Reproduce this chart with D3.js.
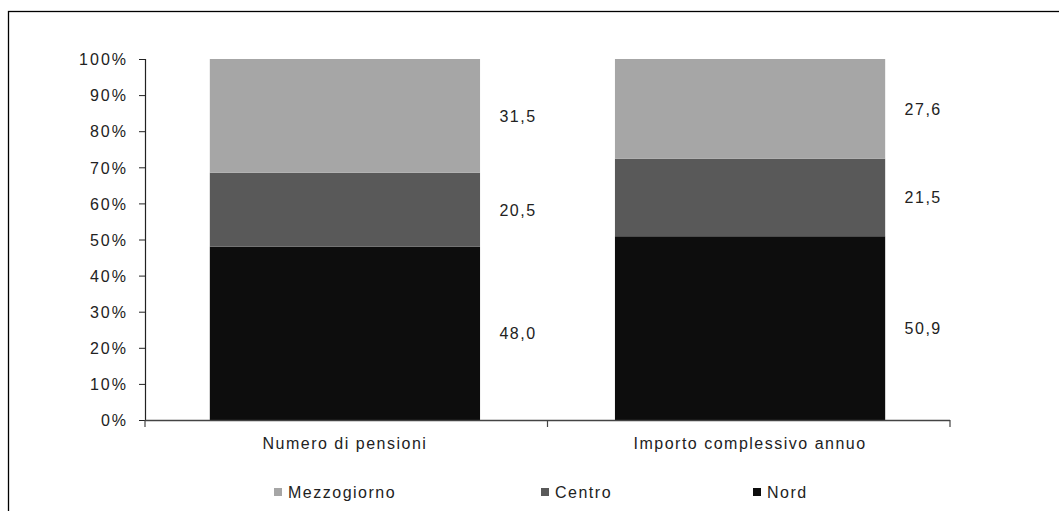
<!DOCTYPE html>
<html><head><meta charset="utf-8">
<script src="https://cdn.jsdelivr.net/npm/d3@7"></script>
<style>
body{margin:0;background:#fff;}
text{font-family:"Liberation Sans",Arial,sans-serif;fill:#222;}
</style></head>
<body><svg id="c" width="1059" height="511"></svg>
<script>
const categories = ["Numero di pensioni", "Importo complessivo annuo"];
const seriesNames = ["Nord", "Centro", "Mezzogiorno"];
const nord = [48.0, 50.9];
const centro = [20.5, 21.5];
const mezzogiorno = [31.5, 27.6];
const yTicks = [0, 10, 20, 30, 40, 50, 60, 70, 80, 90, 100];
const legendOrder = ["Mezzogiorno", "Centro", "Nord"];
const colors = {Nord: "#0d0d0d", Centro: "#595959", Mezzogiorno: "#a6a6a6"};

const FS = "16px", LS = "1.5px";
const svg = d3.select("#c");
// outer frame
svg.append("rect").attr("x", 8.5).attr("y", 11.5).attr("width", 1100).attr("height", 600)
  .attr("fill", "none").attr("stroke", "#000").attr("stroke-width", 1.3);

const x = d3.scaleBand().domain(categories).range([145, 950]).paddingInner(0.333).paddingOuter(0.16);
const y = d3.scaleLinear().domain([0, 100]).range([420, 59]);

const rows = categories.map((c, i) => ({cat: c, Nord: nord[i], Centro: centro[i], Mezzogiorno: mezzogiorno[i]}));
const stack = d3.stack().keys(seriesNames)(rows);

const g = svg.append("g");
stack.forEach(layer => {
  g.selectAll(null).data(layer).enter().append("rect")
    .attr("x", d => x(d.data.cat))
    .attr("width", x.bandwidth())
    .attr("y", d => y(d[1]))
    .attr("height", d => y(d[0]) - y(d[1]))
    .attr("fill", colors[layer.key]);
  g.selectAll(null).data(layer).enter().append("text")
    .attr("x", d => x(d.data.cat) + x.bandwidth() + 38)
    .attr("y", d => y((d[0] + d[1]) / 2) + 6)
    .attr("text-anchor", "middle")
    .style("font-size", FS).style("letter-spacing", LS)
    .text(d => d3.format(".1f")(d[1] - d[0]).replace(".", ","));
});

// y axis
const ya = svg.append("g").attr("transform", "translate(145,0)")
  .call(d3.axisLeft(y).tickValues(yTicks).tickSize(6).tickPadding(11).tickFormat(d => d + "%"));
ya.select(".domain").attr("stroke", "#222").attr("stroke-width", 1.2);
ya.selectAll(".tick line").attr("stroke", "#222");
ya.selectAll("text").style("font-size", FS).style("letter-spacing", "2px").attr("fill", "#222").attr("font-family", null)
  .attr("dy", "0.36em");

// x axis
const xa = svg.append("g").attr("transform", "translate(0,420)");
xa.append("line").attr("x1", 145).attr("x2", 950).attr("y1", 0.5).attr("y2", 0.5).attr("stroke", "#444").attr("stroke-width", 1.3);
const bounds = [145, (x(categories[0]) + x.bandwidth() + x(categories[1])) / 2, 950];
xa.selectAll(null).data(bounds).enter().append("line")
  .attr("x1", d => d).attr("x2", d => d).attr("y1", 0).attr("y2", 7).attr("stroke", "#444").attr("stroke-width", 1.2);
xa.selectAll(null).data(categories).enter().append("text")
  .attr("x", d => x(d) + x.bandwidth() / 2).attr("y", 29)
  .attr("text-anchor", "middle").style("font-size", FS).style("letter-spacing", LS)
  .text(d => d);

// legend
const legX = {Mezzogiorno: 274, Centro: 541, Nord: 753};
const lg = svg.append("g");
legendOrder.forEach(k => {
  lg.append("rect").attr("x", legX[k]).attr("y", 488).attr("width", 8).attr("height", 8).attr("fill", colors[k]);
  lg.append("text").attr("x", legX[k] + 14).attr("y", 498).style("font-size", FS).style("letter-spacing", LS).text(k);
});
</script></body></html>
